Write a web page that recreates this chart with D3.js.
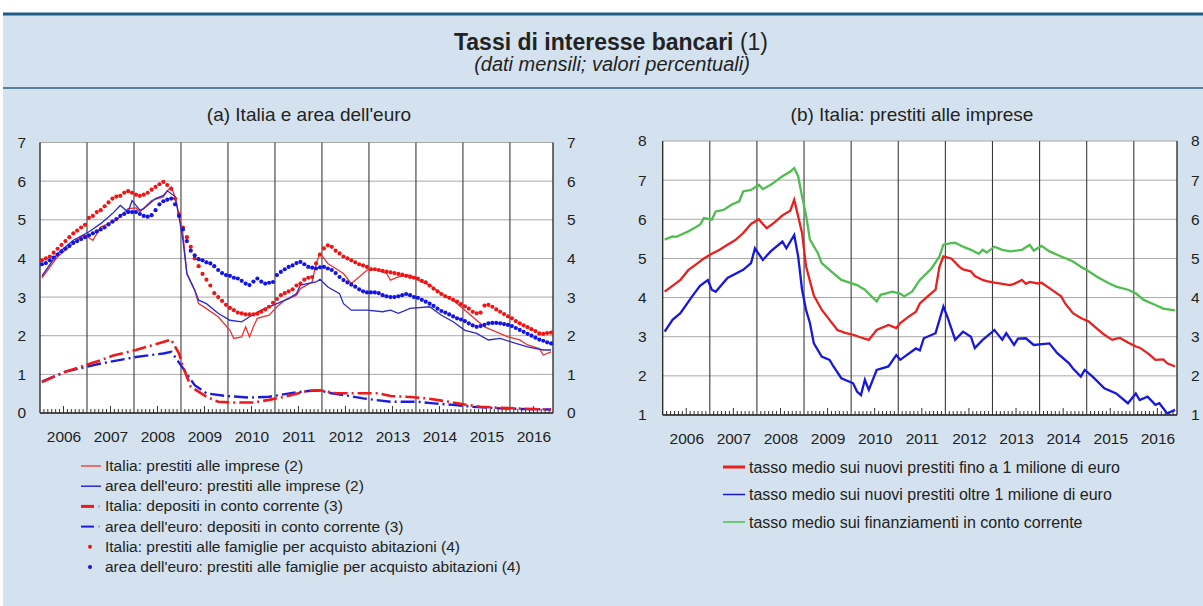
<!DOCTYPE html>
<html>
<head>
<meta charset="utf-8">
<script src="https://cdn.jsdelivr.net/npm/d3@7"></script>
<style>
  html, body { margin: 0; padding: 0; background: #ffffff; }
  svg { display: block; }
  text { font-family: "Liberation Sans", Arial, sans-serif; fill: #222; }
</style>
</head>
<body>
<svg id="chart" width="1203" height="606"></svg>
<script>
// ---------------- DATA ----------------
const years = ["2006","2007","2008","2009","2010","2011","2012","2013","2014","2015","2016"];
const yTicksA = [0,1,2,3,4,5,6,7];
const yTicksB = [1,2,3,4,5,6,7,8];

// Panel (a): [month index from Jan 2006, value]
const itaImprese = [[0,3.5],[4,4.05],[7,4.3],[10,4.56],[11,4.6],[13,4.47],[15,4.81],[19,4.99],[22,5.29],[24,5.31],[25,5.2],[28,5.5],[31,5.59],[32,5.75],[33,5.85],[34,5.59],[36,4.64],[37,3.61],[39,3.18],[40,2.83],[42,2.7],[45,2.49],[48,2.14],[49,1.93],[51,1.97],[52,2.23],[53,1.97],[54,2.23],[55,2.45],[58,2.53],[60,2.75],[62,2.92],[65,3.05],[66,3.22],[69,3.39],[70,3.87],[71,4.13],[73,3.87],[75,3.74],[77,3.61],[79,3.35],[81,3.52],[83,3.7],[85,3.72],[88,3.61],[89,3.44],[91,3.52],[94,3.57],[96,3.44],[99,3.31],[102,3.09],[105,2.92],[108,2.66],[111,2.4],[113,2.23],[116,2.1],[119,1.97],[122,1.89],[124,1.76],[127,1.67],[128,1.5],[130,1.58]];
const euroImprese = [[0,3.55],[4,4.13],[8,4.47],[12,4.69],[15,4.9],[18,5.16],[20,5.37],[22,5.2],[23,5.5],[25,5.25],[26,5.29],[29,5.55],[31,5.63],[32,5.75],[34,5.6],[35,5.07],[36,4.47],[37,3.61],[39,3.18],[40,2.92],[42,2.83],[45,2.58],[48,2.4],[51,2.36],[53,2.49],[56,2.66],[60,2.83],[63,2.96],[65,3.09],[66,3.31],[70,3.39],[71,3.46],[73,3.26],[76,3.09],[77,2.83],[79,2.66],[83,2.66],[87,2.62],[89,2.66],[91,2.58],[94,2.71],[99,2.75],[102,2.53],[105,2.36],[108,2.14],[111,2.06],[114,1.89],[117,1.93],[121,1.8],[124,1.71],[128,1.63],[130,1.63]];
const itaDepositi = [[0,0.8],[6,1.07],[10,1.2],[14,1.33],[18,1.48],[24,1.63],[28,1.75],[33,1.9],[35,1.54],[36,1.2],[38,0.68],[42,0.42],[45,0.29],[49,0.27],[54,0.27],[58,0.34],[62,0.42],[65,0.5],[68,0.58],[71,0.59],[75,0.51],[80,0.51],[86,0.51],[89,0.44],[93,0.42],[98,0.38],[104,0.29],[108,0.22],[112,0.16],[116,0.14],[121,0.12],[126,0.1],[130,0.09]];
const euroDepositi = [[0,0.81],[6,1.07],[15,1.28],[24,1.45],[31,1.54],[33,1.58],[34,1.45],[36,1.16],[39,0.72],[42,0.51],[47,0.44],[53,0.4],[58,0.42],[64,0.52],[68,0.57],[71,0.58],[74,0.51],[78,0.45],[82,0.38],[85,0.34],[89,0.29],[96,0.29],[100,0.25],[105,0.21],[110,0.16],[117,0.12],[124,0.1],[130,0.09]];
// monthly values, Jan 2006 .. Nov 2016
const itaFamiglie = [
  3.95,4.0,4.05,4.15,4.25,4.35,4.45,4.55,4.65,4.72,4.8,4.87,
  5.05,5.1,5.2,5.25,5.35,5.45,5.55,5.6,5.62,5.7,5.74,5.7,
  5.65,5.62,5.65,5.7,5.78,5.85,5.92,5.98,5.9,5.8,5.55,5.15,
  4.8,4.55,4.3,4.0,3.8,3.6,3.45,3.3,3.1,3.0,2.9,2.8,
  2.72,2.66,2.6,2.58,2.55,2.55,2.55,2.57,2.62,2.68,2.75,2.85,
  2.95,3.05,3.1,3.15,3.2,3.3,3.35,3.45,3.5,3.52,3.87,4.1,
  4.26,4.34,4.3,4.2,4.13,4.05,4.0,3.95,3.9,3.85,3.82,3.78,
  3.72,3.72,3.7,3.68,3.66,3.64,3.62,3.6,3.58,3.55,3.52,3.5,
  3.48,3.42,3.38,3.3,3.22,3.15,3.08,3.02,2.98,2.93,2.88,2.82,
  2.76,2.7,2.62,2.58,2.6,2.78,2.8,2.75,2.68,2.62,2.56,2.5,
  2.45,2.38,2.32,2.27,2.22,2.17,2.12,2.06,2.05,2.07,2.08];
const euroFamiglie = [
  3.85,3.88,3.95,4.02,4.1,4.18,4.25,4.32,4.4,4.45,4.5,4.55,
  4.6,4.65,4.7,4.75,4.8,4.88,4.95,5.02,5.1,5.15,5.2,5.2,
  5.2,5.15,5.1,5.08,5.12,5.25,5.4,5.48,5.52,5.55,5.4,5.1,
  4.75,4.45,4.2,4.08,3.98,3.95,3.9,3.87,3.8,3.7,3.62,3.57,
  3.55,3.5,3.48,3.42,3.35,3.31,3.4,3.48,3.4,3.35,3.37,3.39,
  3.57,3.65,3.72,3.78,3.82,3.88,3.91,3.85,3.78,3.76,3.74,3.77,
  3.78,3.74,3.7,3.62,3.52,3.44,3.38,3.32,3.27,3.2,3.15,3.12,
  3.12,3.12,3.1,3.05,3.02,3.0,3.0,3.02,3.05,3.08,3.05,3.0,
  2.98,2.93,2.88,2.83,2.77,2.7,2.64,2.6,2.55,2.5,2.45,2.42,
  2.38,2.32,2.27,2.23,2.25,2.28,2.32,2.33,2.33,2.32,2.3,2.28,
  2.25,2.2,2.15,2.1,2.05,2.0,1.95,1.9,1.87,1.83,1.8];

// Panel (b)
const fino1mln = [[0,4.15],[2,4.3],[4,4.45],[6,4.7],[8,4.85],[10,5.0],[12,5.12],[14,5.22],[16,5.35],[18,5.47],[20,5.65],[22,5.88],[24,6.0],[25,5.88],[26,5.77],[28,5.92],[30,6.1],[32,6.22],[33,6.5],[35,5.65],[36,4.8],[38,4.05],[40,3.69],[42,3.43],[44,3.17],[46,3.1],[48,3.05],[50,2.98],[52,2.92],[54,3.17],[57,3.3],[59,3.22],[60,3.35],[62,3.5],[64,3.64],[65,3.85],[67,4.03],[69,4.2],[70,4.79],[71,5.05],[73,5.0],[75,4.79],[76,4.72],[78,4.67],[79,4.55],[81,4.45],[82,4.42],[84,4.38],[86,4.35],[88,4.32],[89,4.35],[91,4.45],[92,4.35],[93,4.4],[95,4.36],[96,4.38],[98,4.24],[100,4.1],[101,4.03],[102,3.85],[104,3.6],[106,3.48],[108,3.39],[109,3.3],[111,3.13],[112,3.05],[114,2.92],[115,2.95],[116,2.97],[118,2.85],[120,2.75],[121,2.72],[123,2.58],[124,2.5],[125,2.41],[127,2.42],[128,2.32],[130,2.24]];
const oltre1mln = [[0,3.13],[2,3.43],[4,3.6],[7,4.03],[9,4.3],[11,4.45],[12,4.2],[13,4.15],[16,4.5],[20,4.71],[22,4.88],[23,5.26],[25,4.96],[27,5.18],[30,5.43],[31,5.26],[33,5.6],[34,5.05],[35,4.2],[36,3.69],[37,3.35],[38,2.83],[40,2.49],[42,2.41],[43,2.24],[45,1.94],[48,1.81],[49,1.6],[50,1.51],[51,1.9],[52,1.64],[54,2.15],[57,2.24],[59,2.53],[60,2.41],[64,2.7],[65,2.65],[66,2.96],[69,3.09],[71,3.77],[72,3.51],[74,2.92],[76,3.13],[78,3.0],[79,2.71],[81,2.92],[84,3.17],[86,2.92],[87,3.09],[89,2.79],[90,2.95],[92,2.96],[94,2.79],[98,2.83],[100,2.58],[103,2.32],[104,2.19],[106,1.98],[107,2.15],[109,1.98],[112,1.68],[115,1.55],[118,1.3],[120,1.55],[121,1.38],[123,1.47],[125,1.26],[126,1.3],[128,1.04],[130,1.13]];
const contoCorrente = [[0,5.48],[2,5.56],[3,5.55],[4,5.6],[6,5.69],[9,5.86],[10,6.03],[12,5.99],[13,6.2],[15,6.24],[17,6.37],[19,6.46],[20,6.71],[22,6.75],[24,6.88],[25,6.77],[27,6.88],[30,7.1],[32,7.22],[33,7.31],[34,7.1],[35,6.58],[36,6.12],[37,5.48],[39,5.14],[40,4.88],[43,4.62],[45,4.45],[49,4.32],[51,4.2],[54,3.9],[55,4.07],[58,4.15],[60,4.1],[61,4.03],[63,4.15],[65,4.45],[68,4.75],[70,5.05],[71,5.35],[73,5.39],[74,5.4],[76,5.3],[78,5.22],[80,5.12],[81,5.22],[82,5.15],[84,5.3],[86,5.22],[88,5.18],[91,5.22],[93,5.35],[94,5.2],[96,5.32],[98,5.18],[101,5.05],[104,4.92],[106,4.79],[108,4.67],[110,4.54],[113,4.37],[115,4.28],[118,4.2],[120,4.11],[122,3.94],[125,3.81],[127,3.72],[130,3.67]];

// ---------------- DRAW ----------------
const svg = d3.select("#chart");
const W = 1203, H = 606;
const font = "'Liberation Sans', Arial, sans-serif";

svg.append("rect").attr("x",0).attr("y",0).attr("width",W).attr("height",H).attr("fill","#ffffff");
svg.append("rect").attr("x",3).attr("y",13).attr("width",W-3).attr("height",H-13).attr("fill","#d3e2ee");
svg.append("line").attr("x1",3).attr("x2",W).attr("y1",14).attr("y2",14).attr("stroke","#1d5d86").attr("stroke-width",3);
svg.append("line").attr("x1",3).attr("x2",W).attr("y1",88).attr("y2",88).attr("stroke","#2d5f80").attr("stroke-width",1.5);

const title = svg.append("text").attr("x",611).attr("y",50).attr("text-anchor","middle")
  .style("font-size","23px");
title.append("tspan").style("font-weight","bold").text("Tassi di interesse bancari");
title.append("tspan").text(" (1)");
svg.append("text").attr("x",612).attr("y",71).attr("text-anchor","middle")
  .style("font-size","20px").style("font-style","italic").text("(dati mensili; valori percentuali)");

function panel(cfg) {
  const x = d3.scaleLinear().domain([0,131]).range([cfg.x0, cfg.x1]);
  const y = d3.scaleLinear().domain(cfg.yDomain).range([cfg.yBot, cfg.yTop]);
  const g = svg.append("g");
  const clipId = "clip" + cfg.id;
  svg.append("clipPath").attr("id", clipId).append("rect")
    .attr("x", cfg.x0).attr("y", cfg.yTop - 2).attr("width", cfg.x1 - cfg.x0).attr("height", cfg.yBot - cfg.yTop + 2);

  g.append("rect").attr("x",cfg.x0).attr("y",cfg.yTop).attr("width",cfg.x1-cfg.x0).attr("height",cfg.yBot-cfg.yTop).attr("fill","#ffffff");

  // horizontal gridlines
  g.selectAll(".hg").data(cfg.yTicks).join("line")
    .attr("x1",cfg.x0).attr("x2",cfg.x1)
    .attr("y1",d=>y(d)).attr("y2",d=>y(d))
    .attr("stroke","#a8a8a8").attr("stroke-width",1);
  // vertical year lines
  g.selectAll(".vg").data(d3.range(1,11)).join("line")
    .attr("x1",d=>x(d*12)).attr("x2",d=>x(d*12))
    .attr("y1",cfg.yTop).attr("y2",cfg.yBot)
    .attr("stroke","#3a3a3a").attr("stroke-width",1.1);
  // monthly minor ticks
  const months = d3.range(1,131).filter(m => m % 12 !== 0);
  g.selectAll(".mt").data(months).join("line")
    .attr("x1",d=>x(d)).attr("x2",d=>x(d))
    .attr("y1",cfg.yBot).attr("y2",d=> cfg.yBot - (d % 12 === 6 ? 7 : 4))
    .attr("stroke","#333").attr("stroke-width",1);
  // frame
  g.append("line").attr("x1",cfg.x0).attr("x2",cfg.x0).attr("y1",cfg.yTop).attr("y2",cfg.yBot).attr("stroke","#222").attr("stroke-width",1.3);
  g.append("line").attr("x1",cfg.x1).attr("x2",cfg.x1).attr("y1",cfg.yTop).attr("y2",cfg.yBot).attr("stroke","#222").attr("stroke-width",1.3);
  g.append("line").attr("x1",cfg.x0).attr("x2",cfg.x1).attr("y1",cfg.yBot).attr("y2",cfg.yBot).attr("stroke","#222").attr("stroke-width",1.5);

  // axes labels
  const axL = d3.axisLeft(y).tickValues(cfg.yTicks).tickSize(0).tickPadding(cfg.padL).tickFormat(d3.format("d"));
  const axR = d3.axisRight(y).tickValues(cfg.yTicks).tickSize(0).tickPadding(cfg.padR).tickFormat(d3.format("d"));
  const gl = g.append("g").attr("transform",`translate(${cfg.x0},0)`).call(axL);
  const gr = g.append("g").attr("transform",`translate(${cfg.x1},0)`).call(axR);
  const axB = d3.axisBottom(x).tickValues(d3.range(0,11).map(k=>k*12+6)).tickSize(0).tickPadding(18)
    .tickFormat((d,i)=>years[i]);
  const gb = g.append("g").attr("transform",`translate(0,${cfg.yBot})`).call(axB);
  [gl,gr,gb].forEach(a => {
    a.select(".domain").remove();
    a.selectAll("text").style("font-family",font).style("font-size","15.5px").attr("fill","#333");
  });

  // panel title
  svg.append("text").attr("x",cfg.titleX).attr("y",121).attr("text-anchor","middle")
    .style("font-size","19px").attr("fill","#333").text(cfg.title);

  const plot = svg.append("g").attr("clip-path",`url(#${clipId})`);
  return {x, y, plot};
}

// Panel (a)
const A = panel({id:"a", x0:40, x1:553, yTop:142.5, yBot:413, yDomain:[0,7], yTicks:yTicksA,
  padL:14, padR:14, title:"(a) Italia e area dell'euro", titleX:309});
const lineA = d3.line().x(d=>A.x(d[0]+0.5)).y(d=>A.y(d[1]));

A.plot.append("path").datum(euroDepositi).attr("d",lineA).attr("fill","none")
  .attr("stroke","#1c1ce0").attr("stroke-width",2.4).attr("stroke-dasharray","14,4,2,4");
A.plot.append("path").datum(itaDepositi).attr("d",lineA).attr("fill","none")
  .attr("stroke","#f01818").attr("stroke-width",2.6).attr("stroke-dasharray","14,4,2,4");
A.plot.append("path").datum(itaImprese).attr("d",lineA).attr("fill","none")
  .attr("stroke","#f03030").attr("stroke-width",1.3);
A.plot.append("path").datum(euroImprese).attr("d",lineA).attr("fill","none")
  .attr("stroke","#2a2ad0").attr("stroke-width",1.3);
A.plot.selectAll(".dr").data(itaFamiglie).join("circle")
  .attr("cx",(d,i)=>A.x(i+0.5)).attr("cy",d=>A.y(d)).attr("r",2.1).attr("fill","#f01414");
A.plot.selectAll(".db").data(euroFamiglie).join("circle")
  .attr("cx",(d,i)=>A.x(i+0.5)).attr("cy",d=>A.y(d)).attr("r",2.1).attr("fill","#1414e6");

// Panel (b)
const B = panel({id:"b", x0:662.7, x1:1177, yTop:141, yBot:415, yDomain:[1,8], yTicks:yTicksB,
  padL:16, padR:14, title:"(b) Italia: prestiti alle imprese", titleX:912});
const lineB = d3.line().x(d=>B.x(d[0]+0.5)).y(d=>B.y(d[1]));
B.plot.append("path").datum(contoCorrente).attr("d",lineB).attr("fill","none")
  .attr("stroke","#4fbe4f").attr("stroke-width",2.3);
B.plot.append("path").datum(fino1mln).attr("d",lineB).attr("fill","none")
  .attr("stroke","#e8201e").attr("stroke-width",2.3);
B.plot.append("path").datum(oltre1mln).attr("d",lineB).attr("fill","none")
  .attr("stroke","#1818d8").attr("stroke-width",2.3);

// ---------------- LEGENDS ----------------
const legA = [
  {t:"Italia: prestiti alle imprese (2)", type:"line", c:"#f03030", w:1.3},
  {t:"area dell'euro: prestiti alle imprese (2)", type:"line", c:"#2a2ad0", w:1.5},
  {t:"Italia: depositi in conto corrente (3)", type:"dash", c:"#f01818", w:3},
  {t:"area dell'euro: depositi in conto corrente (3)", type:"dash", c:"#1c1ce0", w:2},
  {t:"Italia: prestiti alle famiglie per acquisto abitazioni (4)", type:"dot", c:"#f01414"},
  {t:"area dell'euro: prestiti alle famiglie per acquisto abitazioni (4)", type:"dot", c:"#1414e6"}
];
const la = svg.append("g");
legA.forEach((d,i) => {
  const yy = 466 + i*20.2;
  if (d.type === "line") {
    la.append("line").attr("x1",81).attr("x2",101).attr("y1",yy).attr("y2",yy).attr("stroke",d.c).attr("stroke-width",d.w);
  } else if (d.type === "dash") {
    la.append("line").attr("x1",81).attr("x2",94).attr("y1",yy).attr("y2",yy).attr("stroke",d.c).attr("stroke-width",d.w);
    la.append("circle").attr("cx",99).attr("cy",yy).attr("r",1).attr("fill","#999");
  } else {
    la.append("circle").attr("cx",90).attr("cy",yy).attr("r",2).attr("fill",d.c);
  }
  la.append("text").attr("x",105).attr("y",yy+5).style("font-size","15.5px").text(d.t);
});

const legB = [
  {t:"tasso medio sui nuovi prestiti fino a 1 milione di euro", c:"#e8201e", w:3},
  {t:"tasso medio sui nuovi prestiti oltre 1 milione di euro", c:"#1818d8", w:1.5},
  {t:"tasso medio sui finanziamenti in conto corrente", c:"#4fbe4f", w:1.5}
];
const lb = svg.append("g");
legB.forEach((d,i) => {
  const yy = 467 + i*27.5;
  lb.append("line").attr("x1",723).attr("x2",745).attr("y1",yy).attr("y2",yy).attr("stroke",d.c).attr("stroke-width",d.w);
  lb.append("text").attr("x",749).attr("y",yy+5.5).style("font-size","16px").text(d.t);
});
</script>
</body>
</html>
